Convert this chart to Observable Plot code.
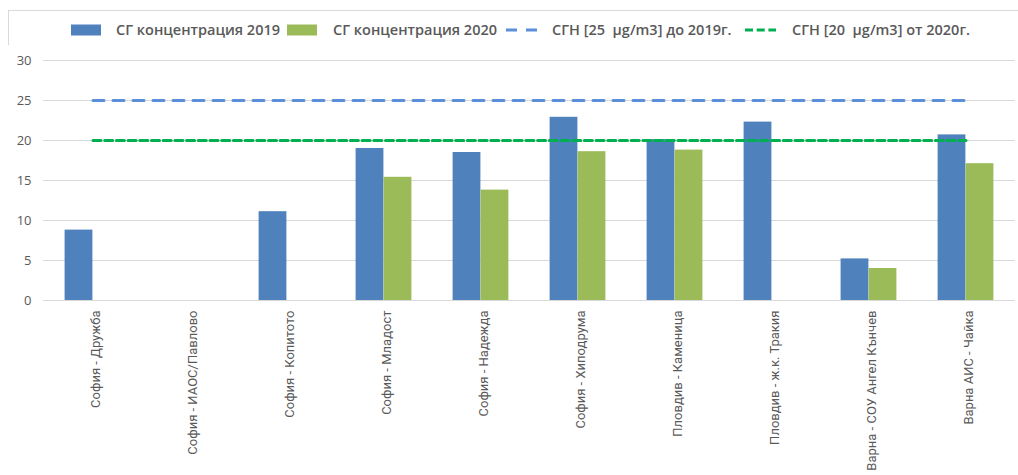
<!DOCTYPE html>
<html>
<head>
<meta charset="utf-8">
<script src="https://cdn.jsdelivr.net/npm/d3@7"></script>
<script src="https://cdn.jsdelivr.net/npm/@observablehq/plot@0.6"></script>
<style>
  html, body { margin: 0; padding: 0; background: #fff; }
  body { width: 1018px; height: 475px; position: relative; overflow: hidden; font-family: "Open Sans", sans-serif; }
  #frame { position: absolute; left: 8px; top: 10px; width: 1100px; height: 600px; border-left: 1px solid #d9d9d9; border-top: 1px solid #d9d9d9; }
  #legend { position: absolute; left: 0; top: 20px; width: 1018px; height: 20px; }
  .sw { position: absolute; top: 4px; }
  .lt { position: absolute; top: 0; line-height: 20px; color: #595959; font-size: 14.5px; font-weight: 600; white-space: pre; }
  #chart { position: absolute; left: 0; top: 45px; }
</style>
</head>
<body>
<div id="frame"></div>
<div id="legend"></div>
<div id="chart"></div>
<script>
const categories = [
  "София - Дружба",
  "София - ИАОС/Павлово",
  "София - Копитото",
  "София - Младост",
  "София - Надежда",
  "София - Хиподрума",
  "Пловдив - Каменица",
  "Пловдив - ж.к. Тракия",
  "Варна - СОУ Ангел Кънчев",
  "Варна АИС - Чайка"
];
const values2019 = [8.8, null, 11.1, 19.0, 18.5, 22.9, 20.1, 22.3, 5.2, 20.7];
const values2020 = [null, null, null, 15.4, 13.8, 18.6, 18.8, null, 4.0, 17.1];
const limit2019 = 25;
const limit2020 = 20;
const yTicks = [0, 5, 10, 15, 20, 25, 30];
const seriesNames = ["СГ концентрация 2019", "СГ концентрация 2020", "СГН [25  μg/m3] до 2019г.", "СГН [20  μg/m3] от 2020г."];

const colors = { b2019: "#4F81BD", g2020: "#9BBB59", l2019: "#5B8FD9", l2020: "#00B050" };

const rows2019 = categories.map((c, i) => ({ cat: c, v: values2019[i] })).filter(d => d.v != null);
const rows2020 = categories.map((c, i) => ({ cat: c, v: values2020[i] })).filter(d => d.v != null);
const lim2019 = categories.map(c => ({ cat: c, v: limit2019 }));
const lim2020 = categories.map(c => ({ cat: c, v: limit2020 }));

const W = 1018, H = 430, mL = 43, mR = 3, mT = 15, mB = 175;
const bw = (W - mL - mR) / categories.length;
const barW = 28;

const chart = Plot.plot({
  width: W, height: H,
  marginLeft: mL, marginRight: mR, marginTop: mT, marginBottom: mB,
  style: { fontFamily: "Open Sans, sans-serif", background: "#fff" },
  x: { domain: categories, padding: 0, axis: null, label: null },
  y: { domain: [0, 30], axis: null, label: null },
  marks: [
    Plot.gridY(yTicks, { stroke: "#d9d9d9", strokeOpacity: 1, strokeWidth: 1 }),
    Plot.axisY(yTicks, { tickSize: 0, tickPadding: 12, fontSize: 13, fill: "#595959", color: "#595959", label: null }),
    Plot.axisX({ tickRotate: -90, tickSize: 0, tickPadding: 10, dx: 3, fontSize: 13, fontFamily: "Roboto, sans-serif", fill: "#595959", color: "#595959", label: null }),
    Plot.barY(rows2019, { x: "cat", y: "v", fill: colors.b2019, insetLeft: bw / 2 - barW, insetRight: bw / 2 }),
    Plot.barY(rows2020, { x: "cat", y: "v", fill: colors.g2020, insetLeft: bw / 2, insetRight: bw / 2 - barW }),
    Plot.lineY(lim2019, { x: "cat", y: "v", stroke: colors.l2019, strokeWidth: 3, strokeDasharray: "11,9" }),
    Plot.lineY(lim2020, { x: "cat", y: "v", stroke: colors.l2020, strokeWidth: 3, strokeDasharray: "8,3.7" })
  ]
});
document.getElementById("chart").appendChild(chart);

// legend
const legend = d3.select("#legend");
const sw = [
  { name: seriesNames[0], type: "rect", color: colors.b2019, sx: 71, tx: 116 },
  { name: seriesNames[1], type: "rect", color: colors.g2020, sx: 287, tx: 333 },
  { name: seriesNames[2], type: "line", color: colors.l2019, dash: "11,9", sx: 506, tx: 552 },
  { name: seriesNames[3], type: "line", color: colors.l2020, dash: "8,3.7", sx: 745, tx: 792 }
];
sw.forEach(s => {
  const svg = legend.append("svg").attr("class", "sw").style("left", s.sx + "px").attr("width", 31).attr("height", 12);
  if (s.type === "rect") {
    svg.append("rect").attr("x", 0).attr("y", 0.5).attr("width", 30).attr("height", 11).attr("fill", s.color);
  } else {
    svg.append("line").attr("x1", 0).attr("x2", 31).attr("y1", 6).attr("y2", 6)
      .attr("stroke", s.color).attr("stroke-width", 3).attr("stroke-dasharray", s.dash);
  }
  legend.append("span").attr("class", "lt").style("left", s.tx + "px").text(s.name);
});
</script>
</body>
</html>
